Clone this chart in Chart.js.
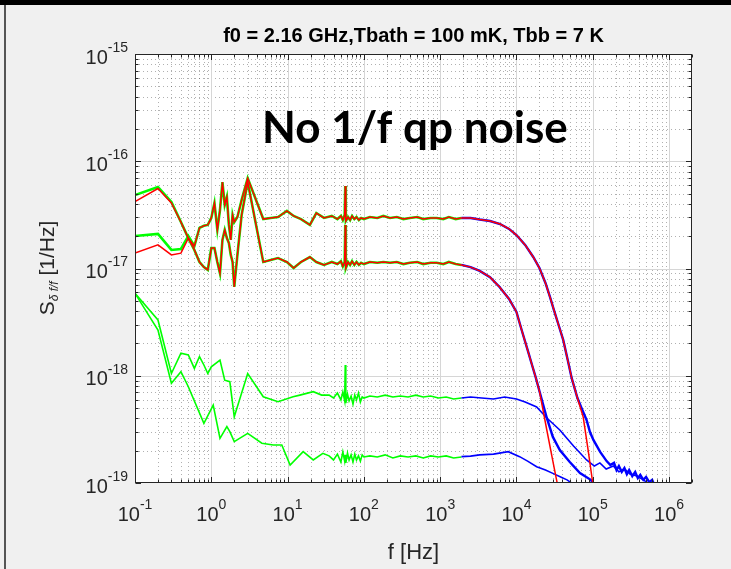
<!DOCTYPE html>
<html>
<head>
<meta charset="utf-8">
<script src="https://cdn.jsdelivr.net/npm/chart.js@4.4.1/dist/chart.umd.min.js"></script>
<style>
  html, body { margin: 0; padding: 0; background: #f0f0f0; }
  #wrap { width: 731px; height: 569px; }
</style>
</head>
<body>
<div id="wrap"><canvas id="noiseChart" width="731" height="569"></canvas></div>
<script>
// ---- data (Hz, 1/Hz) ----
const titleText = 'f0 = 2.16 GHz,Tbath = 100 mK, Tbb = 7 K';
const noteText = 'No 1/f qp noise';
const xTickExps = ['-1', '0', '1', '2', '3', '4', '5', '6'];
const yTickExps = ['-19', '-18', '-17', '-16', '-15'];

// low frequency part of the two high-noise traces
const freqLowAB = [0.1, 0.2, 0.3, 0.4, 0.5, 0.6, 0.7, 0.8, 0.9, 1.0, 1.1, 1.2, 1.3, 1.4, 1.5, 1.6, 1.7, 1.8, 1.9, 2.0, 2.2, 2.5, 3.0];
const lowAGreen = [4.84e-17, 5.75e-17, 4.17e-17, 2.71e-17, 1.92e-17, 1.49e-17, 1.15e-17, 1.03e-17, 9.7e-18, 1.55e-17, 1.55e-17, 1.15e-17, 9.0e-18, 1.85e-17, 2.29e-17, 1.92e-17, 1.73e-17, 1.34e-17, 1.15e-17, 6.73e-18, 1.34e-17, 3.16e-17, 6.4e-17];
const lowARed = [4.2e-17, 5.57e-17, 4.08e-17, 2.71e-17, 1.92e-17, 1.49e-17, 1.15e-17, 1.03e-17, 9.7e-18, 1.55e-17, 1.55e-17, 1.15e-17, 9.0e-18, 1.85e-17, 2.29e-17, 1.92e-17, 1.73e-17, 1.34e-17, 1.15e-17, 6.73e-18, 1.34e-17, 3.16e-17, 6.4e-17];
const lowBGreen = [2.01e-17, 2.10e-17, 1.49e-17, 1.52e-17, 2.01e-17, 1.62e-17, 2.39e-17, 2.50e-17, 2.55e-17, 2.96e-17, 4.08e-17, 2.29e-17, 3.51e-17, 6.4e-17, 3.91e-17, 4.65e-17, 2.55e-17, 1.85e-17, 3.16e-17, 2.71e-17, 3.02e-17, 4.36e-17, 6.97e-17];
const lowBRed = [1.39e-17, 1.66e-17, 1.34e-17, 1.39e-17, 1.92e-17, 1.62e-17, 2.39e-17, 2.50e-17, 2.55e-17, 2.96e-17, 4.08e-17, 2.29e-17, 3.51e-17, 6.4e-17, 3.91e-17, 4.65e-17, 2.55e-17, 1.85e-17, 3.16e-17, 2.71e-17, 3.02e-17, 4.36e-17, 6.97e-17];

// plateaus of the two high-noise traces
const freqMid = [4.8, 6, 7.5, 9.8, 12, 15, 19.6, 23.8, 30, 38, 45, 50, 53, 56, 57, 58, 62, 66, 70, 75, 80, 86, 92, 100, 120, 150, 180, 220, 270, 330, 400, 500, 600, 750, 900, 1100, 1300, 1600, 1900];
const midUpper = [2.89e-17, 2.96e-17, 3.02e-17, 3.44e-17, 3.09e-17, 2.89e-17, 2.55e-17, 3.29e-17, 2.96e-17, 3.09e-17, 2.89e-17, 3.09e-17, 2.83e-17, 3.16e-17, 5.87e-17, 2.77e-17, 3.02e-17, 2.83e-17, 3.09e-17, 2.89e-17, 3.02e-17, 2.83e-17, 2.96e-17, 2.89e-17, 3.02e-17, 2.96e-17, 3.09e-17, 2.96e-17, 3.02e-17, 2.89e-17, 2.96e-17, 3.02e-17, 2.89e-17, 2.96e-17, 2.96e-17, 2.89e-17, 3.02e-17, 2.89e-17, 2.96e-17];
const midLower = [1.15e-17, 1.20e-17, 1.25e-17, 1.15e-17, 1.01e-17, 1.15e-17, 1.28e-17, 1.15e-17, 1.08e-17, 1.15e-17, 1.10e-17, 1.17e-17, 1.05e-17, 1.15e-17, 2.55e-17, 1.01e-17, 1.15e-17, 1.08e-17, 1.17e-17, 1.08e-17, 1.15e-17, 1.08e-17, 1.13e-17, 1.10e-17, 1.15e-17, 1.13e-17, 1.15e-17, 1.13e-17, 1.15e-17, 1.10e-17, 1.13e-17, 1.15e-17, 1.10e-17, 1.13e-17, 1.13e-17, 1.10e-17, 1.15e-17, 1.10e-17, 1.08e-17];

// roll-off of the upper trace
const freqRollUpper = [1900, 2500, 3300, 4500, 6100, 8000, 1.0e4, 1.3e4, 1.66e4, 2.0e4, 2.4e4, 2.75e4, 3.1e4, 3.6e4, 4.1e4, 4.7e4, 5.3e4, 6.3e4];
const rollUpper = [2.96e-17, 2.96e-17, 2.86e-17, 2.77e-17, 2.60e-17, 2.34e-17, 2.05e-17, 1.66e-17, 1.28e-17, 1.01e-17, 7.33e-18, 5.43e-18, 4.1e-18, 2.91e-18, 2.16e-18, 1.40e-18, 9.5e-19, 6.2e-19];
const freqRedEndUpper = [7.5e4, 8.7e4, 1.0e5, 1.1e5];
const redEndUpper = [4.12e-19, 2.03e-19, 1.0e-19, 8.3e-20];
const freqBlueTailUpper = [7.3e4, 8.3e4, 9.2e4, 1.02e5, 1.25e5, 1.52e5, 1.7e5, 1.9e5, 2.05e5, 2.2e5, 2.4e5, 2.6e5, 2.8e5, 3.0e5, 3.3e5, 3.6e5, 3.9e5, 4.2e5, 4.6e5, 5.0e5, 5.5e5, 6.0e5, 6.5e5];
const blueTailUpper = [4.8e-19, 3.87e-19, 2.99e-19, 2.52e-19, 1.95e-19, 1.60e-19, 1.47e-19, 1.54e-19, 1.32e-19, 1.44e-19, 1.27e-19, 1.38e-19, 1.21e-19, 1.32e-19, 1.16e-19, 1.27e-19, 1.11e-19, 1.19e-19, 1.07e-19, 1.14e-19, 1.02e-19, 1.07e-19, 9.4e-20];

// roll-off of the lower trace
const freqRollLower = [1900, 2500, 3300, 4500, 6000, 8000, 1.0e4, 1.17e4, 1.4e4, 1.6e4, 1.8e4, 2.0e4];
const rollLower = [1.08e-17, 1.03e-17, 9.5e-18, 8.3e-18, 6.73e-18, 5.2e-18, 3.93e-18, 2.67e-18, 1.74e-18, 1.26e-18, 9.5e-19, 7.2e-19];
const freqRedEndLower = [2.5e4, 3.0e4, 3.4e4, 3.6e4];
const redEndLower = [3.12e-19, 1.6e-19, 1.02e-19, 8e-20];
const freqBlueTailLower = [2.5e4, 3.0e4, 3.7e4, 5.0e4, 6.8e4, 9.4e4, 1.05e5];
const blueTailLower = [4.04e-19, 2.69e-19, 2.03e-19, 1.57e-19, 1.24e-19, 1.07e-19, 9.6e-20];

// the two low-noise traces (green part)
const freqGreenMid = [0.1, 0.2, 0.3, 0.4, 0.5, 0.6, 0.7, 0.8, 0.9, 1.0, 1.3, 1.5, 1.75, 2.0, 3.0, 4.8, 7.5, 11.8, 14.5, 21.7, 28,
  35, 40, 45, 50, 53, 56, 57, 58, 61, 64, 68, 72, 76, 80, 85, 90, 95, 100, 120, 150, 190, 240, 300, 380, 480, 600, 750, 950, 1200, 1500, 1900];
const greenMid = [5.87e-18, 3.31e-18, 1.05e-18, 1.62e-18, 1.56e-18, 1.17e-18, 1.51e-18, 1.26e-18, 1.05e-18, 1.21e-18, 1.40e-18, 9.1e-19, 8.8e-19, 4.15e-19, 1.05e-18, 6.37e-19, 5.73e-19, 6.37e-19, 6.6e-19, 7.1e-19, 6.6e-19,
  6.6e-19, 6.2e-19, 6.9e-19, 5.95e-19, 7.06e-19, 5.82e-19, 1.26e-18, 5.57e-19, 6.75e-19, 5.82e-19, 6.47e-19, 5.45e-19, 6.6e-19, 5.95e-19, 6.9e-19, 5.69e-19, 6.34e-19, 6.2e-19, 6.47e-19, 6.34e-19, 6.6e-19, 6.34e-19, 6.47e-19, 6.34e-19, 6.6e-19, 6.34e-19, 6.47e-19, 6.2e-19, 6.34e-19, 6.07e-19, 6.2e-19];
const freqGreenLow = [0.1, 0.2, 0.3, 0.4, 0.5, 0.8, 1.06, 1.3, 1.6, 1.75, 2.0, 3.0, 4.6, 6.5, 8.4, 10.8, 16, 21.7, 29,
  35, 40, 45, 50, 53, 56, 57, 58, 61, 64, 68, 72, 76, 80, 85, 90, 95, 100, 120, 150, 190, 240, 300, 380, 480, 600, 750, 950, 1200, 1500, 1900];
const greenLow = [5.87e-18, 2.67e-18, 8.5e-19, 1.09e-18, 7.9e-19, 3.6e-19, 5.33e-19, 2.61e-19, 3.35e-19, 3.01e-19, 2.43e-19, 2.9e-19, 2.35e-19, 2.26e-19, 2.26e-19, 1.47e-19, 1.96e-19, 1.64e-19, 1.89e-19,
  1.79e-19, 1.64e-19, 1.86e-19, 1.57e-19, 1.95e-19, 1.60e-19, 1.83e-19, 1.54e-19, 1.90e-19, 1.64e-19, 1.83e-19, 1.57e-19, 1.86e-19, 1.64e-19, 1.79e-19, 1.60e-19, 1.83e-19, 1.75e-19, 1.79e-19, 1.75e-19, 1.83e-19, 1.71e-19, 1.79e-19, 1.75e-19, 1.79e-19, 1.71e-19, 1.79e-19, 1.75e-19, 1.79e-19, 1.71e-19, 1.75e-19];

// the two low-noise traces (blue part)
const freqBlueMid = [1900, 2500, 3500, 5000, 7000, 1.0e4, 1.3e4, 1.84e4, 2.5e4, 3.7e4, 5.6e4, 8.3e4, 1.05e5, 1.24e5, 1.5e5, 1.86e5, 2.2e5, 2.6e5, 3.1e5, 3.8e5, 4.6e5, 5.5e5];
const blueMid = [6.2e-19, 6.34e-19, 6.2e-19, 6.07e-19, 6.34e-19, 6.07e-19, 5.69e-19, 5.12e-19, 4.04e-19, 3.12e-19, 2.21e-19, 1.64e-19, 1.44e-19, 1.54e-19, 1.35e-19, 1.44e-19, 1.27e-19, 1.35e-19, 1.21e-19, 1.16e-19, 1.07e-19, 9.8e-20];
const freqBlueLow = [1900, 2500, 3300, 5000, 7800, 1.1e4, 1.4e4, 1.84e4, 2.4e4, 3.0e4, 3.8e4, 4.6e4, 5.5e4];
const blueLow = [1.76e-19, 1.78e-19, 1.83e-19, 1.86e-19, 1.96e-19, 1.76e-19, 1.60e-19, 1.42e-19, 1.32e-19, 1.23e-19, 1.14e-19, 1.07e-19, 9.8e-20];

const GREEN = '#00ff00';
const RED = '#ff0000';
const BLUE = '#0000ff';
const AXIS = '#262626';
const TICK_FONT = '"Liberation Sans", Arial, sans-serif';

const pts = (fs, vs) => fs.map((f, i) => ({ x: f, y: vs[i] }));

const trace = (data, color, width, order) => ({
    data,
    borderColor: color,
    borderWidth: width,
    pointRadius: 0,
    tension: 0,
    fill: false,
    order,
});

const logTicks = (lo, hi) => {
    const out = [];
    for (let d = Math.floor(Math.log10(lo)); d <= Math.ceil(Math.log10(hi)); d++) {
        for (let m = 1; m <= 9; m++) {
            const v = m * Math.pow(10, d);
            if (v >= lo * 0.999 && v <= hi * 1.001) out.push({ v, major: m === 1 });
        }
    }
    return out;
};

const drawPow = (ctx, x, y, exp, align) => {
    ctx.font = '20px ' + TICK_FONT;
    const w1 = ctx.measureText('10').width;
    ctx.font = '14px ' + TICK_FONT;
    const w2 = ctx.measureText(exp).width;
    const start = align === 'center' ? x - (w1 + w2) / 2 : x - (w1 + w2);
    ctx.textAlign = 'left';
    ctx.textBaseline = 'middle';
    ctx.font = '20px ' + TICK_FONT;
    ctx.fillText('10', start, y + 4);
    ctx.font = '14px ' + TICK_FONT;
    ctx.fillText(exp, start + w1, y - 6);
};

const matlabFrame = {
    id: 'matlabFrame',
    beforeDraw(chart) {
        const { ctx, chartArea: a, scales: { x, y } } = chart;
        ctx.save();
        ctx.fillStyle = '#f0f0f0';
        ctx.fillRect(0, 0, chart.width, chart.height);
        ctx.fillStyle = '#000';
        ctx.fillRect(0, 0, chart.width, 5);
        ctx.fillStyle = '#555';
        ctx.fillRect(4, 5, 2, chart.height - 5);
        ctx.fillStyle = '#fff';
        ctx.fillRect(a.left, a.top, a.right - a.left, a.bottom - a.top);

        const xt = logTicks(x.min, x.max);
        const yt = logTicks(y.min, y.max);

        // minor grid, dotted
        ctx.lineWidth = 1;
        ctx.strokeStyle = 'rgba(30,30,30,0.35)';
        ctx.setLineDash([1, 3]);
        ctx.beginPath();
        xt.filter(t => !t.major).forEach(t => {
            const px = Math.round(x.getPixelForValue(t.v)) + 0.5;
            if (px <= a.left + 1 || px >= a.right - 1) return;
            ctx.moveTo(px, a.top);
            ctx.lineTo(px, a.bottom);
        });
        yt.filter(t => !t.major).forEach(t => {
            const py = Math.round(y.getPixelForValue(t.v)) + 0.5;
            if (py <= a.top + 1 || py >= a.bottom - 1) return;
            ctx.moveTo(a.left, py);
            ctx.lineTo(a.right, py);
        });
        ctx.stroke();

        // major grid, solid
        ctx.setLineDash([]);
        ctx.strokeStyle = '#d6d6d6';
        ctx.beginPath();
        xt.filter(t => t.major).forEach(t => {
            const px = Math.round(x.getPixelForValue(t.v)) + 0.5;
            if (px <= a.left + 1 || px >= a.right - 1) return;
            ctx.moveTo(px, a.top);
            ctx.lineTo(px, a.bottom);
        });
        yt.filter(t => t.major).forEach(t => {
            const py = Math.round(y.getPixelForValue(t.v)) + 0.5;
            if (py <= a.top + 1 || py >= a.bottom - 1) return;
            ctx.moveTo(a.left, py);
            ctx.lineTo(a.right, py);
        });
        ctx.stroke();
        ctx.restore();
    },
    afterDraw(chart) {
        const { ctx, chartArea: a, scales: { x, y } } = chart;
        ctx.save();
        const L = Math.round(a.left) + 0.5, R = Math.round(a.right) - 0.5;
        const T = Math.round(a.top) + 0.5, B = Math.round(a.bottom) - 0.5;

        // box and inward ticks
        ctx.strokeStyle = AXIS;
        ctx.lineWidth = 1;
        ctx.strokeRect(L, T, R - L, B - T);
        ctx.beginPath();
        logTicks(x.min, x.max).forEach(t => {
            const px = Math.round(x.getPixelForValue(t.v)) + 0.5;
            const len = t.major ? 5.5 : 3;
            ctx.moveTo(px, B); ctx.lineTo(px, B - len);
            ctx.moveTo(px, T); ctx.lineTo(px, T + len);
        });
        logTicks(y.min, y.max).forEach(t => {
            const py = Math.round(y.getPixelForValue(t.v)) + 0.5;
            const len = t.major ? 5.5 : 3;
            ctx.moveTo(L, py); ctx.lineTo(L + len, py);
            ctx.moveTo(R, py); ctx.lineTo(R - len, py);
        });
        ctx.stroke();

        // tick labels
        ctx.fillStyle = AXIS;
        xTickExps.forEach(e => drawPow(ctx, x.getPixelForValue(Math.pow(10, +e)), 511, e, 'center'));
        yTickExps.forEach(e => drawPow(ctx, a.left - 7, y.getPixelForValue(Math.pow(10, +e)), e, 'right'));

        // axis labels
        ctx.textAlign = 'center';
        ctx.textBaseline = 'middle';
        ctx.font = '22px ' + TICK_FONT;
        ctx.fillText('f [Hz]', (a.left + a.right) / 2, 553);

        ctx.save();
        ctx.translate(48, 268);
        ctx.rotate(-Math.PI / 2);
        const parts = [
            { t: 'S', f: '21px ' + TICK_FONT, dy: 0 },
            { t: 'δ f/f', f: 'italic 12px ' + TICK_FONT, dy: 7 },
            { t: ' [1/Hz]', f: '21px ' + TICK_FONT, dy: 0 },
        ];
        let total = 0;
        parts.forEach(p => { ctx.font = p.f; p.w = ctx.measureText(p.t).width; total += p.w; });
        let cx = -total / 2;
        ctx.textAlign = 'left';
        parts.forEach(p => { ctx.font = p.f; ctx.fillText(p.t, cx, p.dy); cx += p.w; });
        ctx.restore();

        // title
        ctx.textAlign = 'center';
        ctx.font = 'bold 20px ' + TICK_FONT;
        ctx.fillStyle = '#000';
        ctx.fillText(titleText, (a.left + a.right) / 2, 36);

        // slide annotation
        ctx.font = 'bold 40px Lato, "Open Sans", sans-serif';
        const w = ctx.measureText(noteText).width;
        const size = 40 * 306 / w;
        ctx.font = 'bold ' + size.toFixed(1) + 'px Lato, "Open Sans", sans-serif';
        ctx.textAlign = 'left';
        ctx.textBaseline = 'alphabetic';
        ctx.fillText(noteText, 262, 143);
        ctx.restore();
    },
};

new Chart(document.getElementById('noiseChart'), {
    type: 'line',
    data: {
        datasets: [
            // green (drawn first)
            trace(pts([...freqLowAB, ...freqMid], [...lowAGreen, ...midLower]), GREEN, 2.6, 3),
            trace(pts([...freqLowAB, ...freqMid], [...lowBGreen, ...midUpper]), GREEN, 2.6, 3),
            trace(pts(freqGreenMid, greenMid), GREEN, 1.6, 3),
            trace(pts(freqGreenLow, greenLow), GREEN, 1.6, 3),
            // blue
            trace(pts([...freqRollUpper, ...freqBlueTailUpper], [...rollUpper, ...blueTailUpper]), BLUE, 2.4, 2),
            trace(pts([...freqRollLower, ...freqBlueTailLower], [...rollLower, ...blueTailLower]), BLUE, 2.4, 2),
            trace(pts(freqBlueMid, blueMid), BLUE, 1.6, 2),
            trace(pts(freqBlueLow, blueLow), BLUE, 1.6, 2),
            // red (on top)
            trace(pts([...freqLowAB, ...freqMid, ...freqRollLower, ...freqRedEndLower], [...lowARed, ...midLower, ...rollLower, ...redEndLower]), RED, 1.5, 1),
            trace(pts([...freqLowAB, ...freqMid, ...freqRollUpper, ...freqRedEndUpper], [...lowBRed, ...midUpper, ...rollUpper, ...redEndUpper]), RED, 1.5, 1),
        ],
    },
    options: {
        responsive: false,
        animation: false,
        events: [],
        layout: { padding: { top: 54, right: 39, bottom: 0, left: 0 } },
        plugins: { legend: { display: false }, tooltip: { enabled: false } },
        scales: {
            x: {
                type: 'logarithmic',
                min: 0.1,
                max: 2e6,
                bounds: 'data',
                grid: { display: false },
                border: { display: false },
                ticks: { display: false },
                afterFit: s => { s.height = 86; },
            },
            y: {
                type: 'logarithmic',
                min: 1e-19,
                max: 1e-15,
                bounds: 'data',
                grid: { display: false },
                border: { display: false },
                ticks: { display: false },
                afterFit: s => { s.width = 135; },
            },
        },
    },
    plugins: [matlabFrame],
});
</script>
</body>
</html>
